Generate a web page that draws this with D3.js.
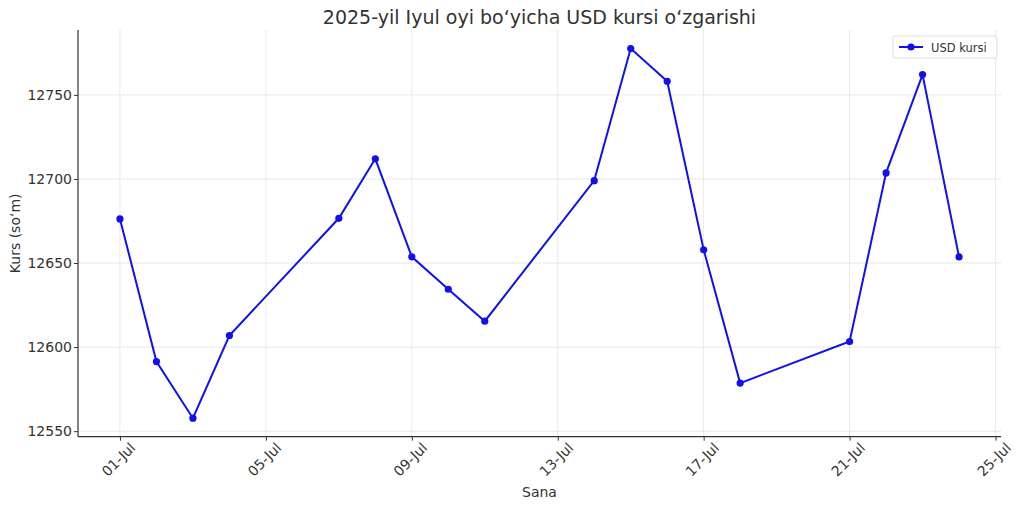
<!DOCTYPE html>
<html><head><meta charset="utf-8">
<script src="https://cdn.jsdelivr.net/npm/d3@7"></script>
<style>body{margin:0;background:#fff;} svg{display:block;font-family:"DejaVu Sans",sans-serif;}</style>
</head><body>
<svg id="c" width="1024" height="508"></svg>
<script>
const dates = ["2025-07-01","2025-07-02","2025-07-03","2025-07-04","2025-07-07","2025-07-08","2025-07-09","2025-07-10","2025-07-11","2025-07-14","2025-07-15","2025-07-16","2025-07-17","2025-07-18","2025-07-21","2025-07-22","2025-07-23","2025-07-24"];
const rates = [12676.2,12591.4,12557.7,12606.9,12676.6,12712.0,12653.7,12634.4,12615.4,12699.0,12777.6,12758.1,12657.9,12578.6,12603.3,12703.6,12762.1,12653.6];
const yTicks = [12550,12600,12650,12700,12750];
const xTicks = ["2025-07-01","2025-07-05","2025-07-09","2025-07-13","2025-07-17","2025-07-21","2025-07-25"];
const title = "2025-yil Iyul oyi bo‘yicha USD kursi o‘zgarishi";
const xLabel = "Sana", yLabel = "Kurs (so‘m)", seriesName = "USD kursi";

const svg = d3.select("#c");
const L = 78, R = 1001, T = 30, B = 436.7;
const parse = d3.utcParse("%Y-%m-%d");
const data = dates.map((d,i)=>({d:parse(d), v:rates[i]}));
const dMin = parse(dates[0]), dMax = parse(dates[dates.length-1]);
const span = dMax - dMin;
const x = d3.scaleUtc().domain([new Date(+dMin - span*0.05), new Date(+dMax + span*0.05)]).range([L,R]);
const vMin = d3.min(rates), vMax = d3.max(rates), vr = vMax - vMin;
const y = d3.scaleLinear().domain([vMin - vr*0.05, vMax + vr*0.05]).range([B,T]);

const color = "#1010f0";
// grid
const g = svg.append("g");
g.selectAll(".gy").data(yTicks).join("line")
  .attr("x1",L).attr("x2",R).attr("y1",d=>y(d)).attr("y2",d=>y(d))
  .attr("stroke","#dcdcdc").attr("stroke-width",0.8).attr("stroke-dasharray","3,1");
g.selectAll(".gx").data(xTicks.map(parse)).join("line")
  .attr("y1",T).attr("y2",B).attr("x1",d=>x(d)).attr("x2",d=>x(d))
  .attr("stroke","#dcdcdc").attr("stroke-width",0.8).attr("stroke-dasharray","3,1");

// axes
const ya = svg.append("g").attr("transform",`translate(${L},0)`)
  .call(d3.axisLeft(y).tickValues(yTicks).tickSize(4).tickPadding(2).tickFormat(d3.format("d")));
const xa = svg.append("g").attr("transform",`translate(0,${B})`)
  .call(d3.axisBottom(x).tickValues(xTicks.map(parse)).tickSize(4).tickPadding(3).tickFormat(d3.utcFormat("%d-%b")));
[ya,xa].forEach(a=>{
  a.select(".domain").attr("stroke","#333").attr("stroke-width",1.2);
  a.selectAll(".tick line").attr("stroke","#333");
  a.selectAll(".tick text").attr("fill","#333").style("font-size","14px").style("font-family","DejaVu Sans");
});
ya.select(".domain").attr("d",`M0,${B}V${T}`);
xa.select(".domain").attr("d",`M${L},0H${R}`);
xa.selectAll(".tick text").attr("text-anchor","end").attr("dy","0.3em")
  .attr("transform","translate(8,4) rotate(-45)");

// line
svg.append("path").datum(data)
  .attr("d", d3.line().x(d=>x(d.d)).y(d=>y(d.v)))
  .attr("fill","none").attr("stroke",color).attr("stroke-width",2);
svg.selectAll(".pt").data(data).join("circle")
  .attr("cx",d=>x(d.d)).attr("cy",d=>y(d.v)).attr("r",3.6).attr("fill",color);

// texts
svg.append("text").attr("x",(L+R)/2).attr("y",24).attr("text-anchor","middle")
  .style("font-size","19px").attr("fill","#333").text(title);
svg.append("text").attr("x",(L+R)/2).attr("y",497).attr("text-anchor","middle")
  .style("font-size","14px").attr("fill","#333").text(xLabel);
svg.append("text").attr("transform",`translate(20,${(T+B)/2}) rotate(-90)`).attr("text-anchor","middle")
  .style("font-size","14px").attr("fill","#333").text(yLabel);

// legend
const lg = svg.append("g").attr("transform","translate(893,36)");
lg.append("rect").attr("width",104).attr("height",22).attr("rx",2)
  .attr("fill","#fff").attr("fill-opacity",0.85).attr("stroke","#ddd");
lg.append("line").attr("x1",6).attr("x2",30).attr("y1",11).attr("y2",11).attr("stroke",color).attr("stroke-width",2);
lg.append("circle").attr("cx",18).attr("cy",11).attr("r",3.6).attr("fill",color);
lg.append("text").attr("x",38).attr("y",15.5).style("font-size","11.5px").attr("fill","#333").text(seriesName);
</script>
</body></html>
